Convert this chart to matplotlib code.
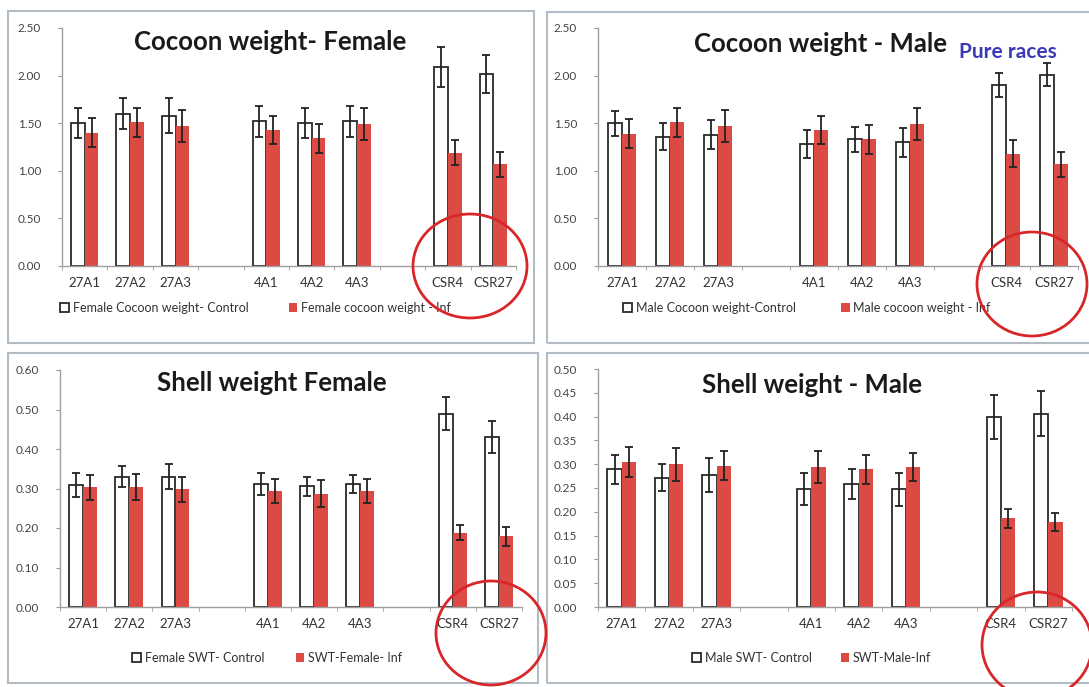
import numpy as np
import matplotlib.pyplot as plt
from matplotlib.patches import Rectangle, Ellipse

plt.rcParams['font.family'] = ['Lato', 'DejaVu Sans']

# races on the category axis (a blank slot separates each group of three)
races = ['27A1', '27A2', '27A3', '4A1', '4A2', '4A3', 'CSR4', 'CSR27']

# cocoon weight, female
cw_f_ctrl = [1.50, 1.60, 1.58, 1.52, 1.50, 1.52, 2.09, 2.02]
cw_f_ctrl_err = [0.16, 0.16, 0.18, 0.16, 0.16, 0.16, 0.21, 0.20]
cw_f_inf = [1.40, 1.51, 1.47, 1.43, 1.34, 1.49, 1.19, 1.07]
cw_f_inf_err = [0.15, 0.15, 0.17, 0.15, 0.15, 0.17, 0.13, 0.13]

# cocoon weight, male
cw_m_ctrl = [1.50, 1.36, 1.38, 1.28, 1.33, 1.30, 1.90, 2.01]
cw_m_ctrl_err = [0.13, 0.14, 0.15, 0.15, 0.13, 0.15, 0.13, 0.12]
cw_m_inf = [1.39, 1.51, 1.47, 1.43, 1.33, 1.49, 1.18, 1.07]
cw_m_inf_err = [0.15, 0.15, 0.17, 0.15, 0.15, 0.17, 0.14, 0.13]

# shell weight, female
sw_f_ctrl = [0.309, 0.330, 0.330, 0.311, 0.306, 0.311, 0.489, 0.431]
sw_f_ctrl_err = [0.030, 0.027, 0.032, 0.027, 0.024, 0.023, 0.042, 0.040]
sw_f_inf = [0.303, 0.303, 0.298, 0.294, 0.287, 0.294, 0.188, 0.179]
sw_f_inf_err = [0.031, 0.033, 0.032, 0.031, 0.034, 0.031, 0.019, 0.024]

# shell weight, male
sw_m_ctrl = [0.289, 0.272, 0.277, 0.248, 0.258, 0.247, 0.399, 0.406]
sw_m_ctrl_err = [0.030, 0.029, 0.035, 0.033, 0.031, 0.034, 0.047, 0.047]
sw_m_inf = [0.305, 0.300, 0.297, 0.294, 0.289, 0.294, 0.186, 0.179]
sw_m_inf_err = [0.031, 0.035, 0.031, 0.033, 0.030, 0.030, 0.019, 0.019]

W, H = 1089, 687
RED = '#dc4a44'
fig = plt.figure(figsize=(W / 100, H / 100), dpi=100)


def px(x, y):
    return x / W, 1 - y / H


def panel(rect, title, title_xy, ctrl, ctrl_err, inf, inf_err, ymax, ystep,
          labels, legend_xy, colsp):
    ax = fig.add_axes(rect)
    x = np.arange(len(races)) + np.arange(len(races)) // 3
    w = 0.3
    ekw = dict(ecolor='#222222', elinewidth=1.3, capthick=1.3)
    b1 = ax.bar(x - w / 2, ctrl, w, color='white', edgecolor='#2a2a2a', lw=1.3,
                yerr=ctrl_err, capsize=3, error_kw=ekw, label=labels[0])
    b2 = ax.bar(x + w / 2, inf, w, color=RED, edgecolor='none',
                yerr=inf_err, capsize=3, error_kw=ekw, label=labels[1])
    ax.set_xlim(-0.5, 9.5)
    ax.set_ylim(0, ymax)
    yt = np.arange(0, ymax + ystep / 2, ystep)
    ax.set_yticks(yt)
    ax.set_yticklabels([f'{v:.2f}' for v in yt])
    ax.set_xticks(x)
    ax.set_xticklabels(races)
    ax.set_xticks(np.arange(-0.5, 10, 1), minor=True)
    ax.tick_params(axis='x', which='major', length=0, pad=8, labelsize=9.5,
                   labelcolor='#333333')
    ax.tick_params(axis='x', which='minor', length=3, color='#999999')
    ax.tick_params(axis='y', length=3, color='#999999', labelsize=8.5,
                   labelcolor='#444444', pad=12)
    for s in ('top', 'right'):
        ax.spines[s].set_visible(False)
    for s in ('left', 'bottom'):
        ax.spines[s].set_color('#a0a0a0')
        ax.spines[s].set_linewidth(1.0)
    ax.patch.set_alpha(0)
    fig.text(*px(*title_xy), title, ha='center', va='center',
             fontsize=18.5, fontweight='bold', color='#1a1a1a')
    ax.legend(handles=[b1, b2], loc='center left',
              bbox_to_anchor=px(*legend_xy), bbox_transform=fig.transFigure,
              ncol=2, frameon=False, fontsize=9, handlelength=0.7,
              handleheight=0.7, handletextpad=0.3, columnspacing=colsp,
              labelcolor='#333333')
    return ax


# panel frames
for x0, y0, x1, y1 in [(8, 11, 534, 343), (547, 12, 1100, 343),
                       (8, 353, 538, 683), (547, 353, 1100, 683)]:
    fig.add_artist(Rectangle(px(x0, y1), (x1 - x0) / W, (y1 - y0) / H,
                             transform=fig.transFigure, fill=False,
                             edgecolor='#b3bcc5', lw=1.5))

panel([62 / W, 1 - 266 / H, 454 / W, 238 / H], 'Cocoon weight- Female', (270, 42),
      cw_f_ctrl, cw_f_ctrl_err, cw_f_inf, cw_f_inf_err, 2.5, 0.5,
      ['Female Cocoon weight- Control', 'Female cocoon weight - Inf'], (49, 308), 3.2)
panel([598 / W, 1 - 266 / H, 480 / W, 238 / H], 'Cocoon weight - Male', (821, 44),
      cw_m_ctrl, cw_m_ctrl_err, cw_m_inf, cw_m_inf_err, 2.5, 0.5,
      ['Male Cocoon weight-Control', 'Male cocoon weight - Inf'], (612, 308), 3.6)
panel([60 / W, 1 - 607 / H, 462 / W, 237 / H], 'Shell weight Female', (272, 383),
      sw_f_ctrl, sw_f_ctrl_err, sw_f_inf, sw_f_inf_err, 0.6, 0.1,
      ['Female SWT- Control', 'SWT-Female- Inf'], (121, 658), 2.5)
panel([598 / W, 1 - 607 / H, 474 / W, 238 / H], 'Shell weight - Male', (812, 385),
      sw_m_ctrl, sw_m_ctrl_err, sw_m_inf, sw_m_inf_err, 0.5, 0.05,
      ['Male SWT- Control', 'SWT-Male-Inf'], (681, 658), 2.3)

fig.text(*px(959, 52), 'Pure races', ha='left', va='center', fontsize=15,
         fontweight='bold', color='#3b3bb8')

# red rings around the pure races
for cx, cy, rx, ry in [(470, 266, 57, 52), (1032, 284, 55, 52),
                       (491, 633, 55, 52), (1037, 645, 55, 53)]:
    fig.add_artist(Ellipse(px(cx, cy), 2 * rx / W, 2 * ry / H,
                           transform=fig.transFigure, fill=False,
                           edgecolor='#d8262a', lw=2.0))

fig.savefig('out.png', dpi=100, facecolor='white')
